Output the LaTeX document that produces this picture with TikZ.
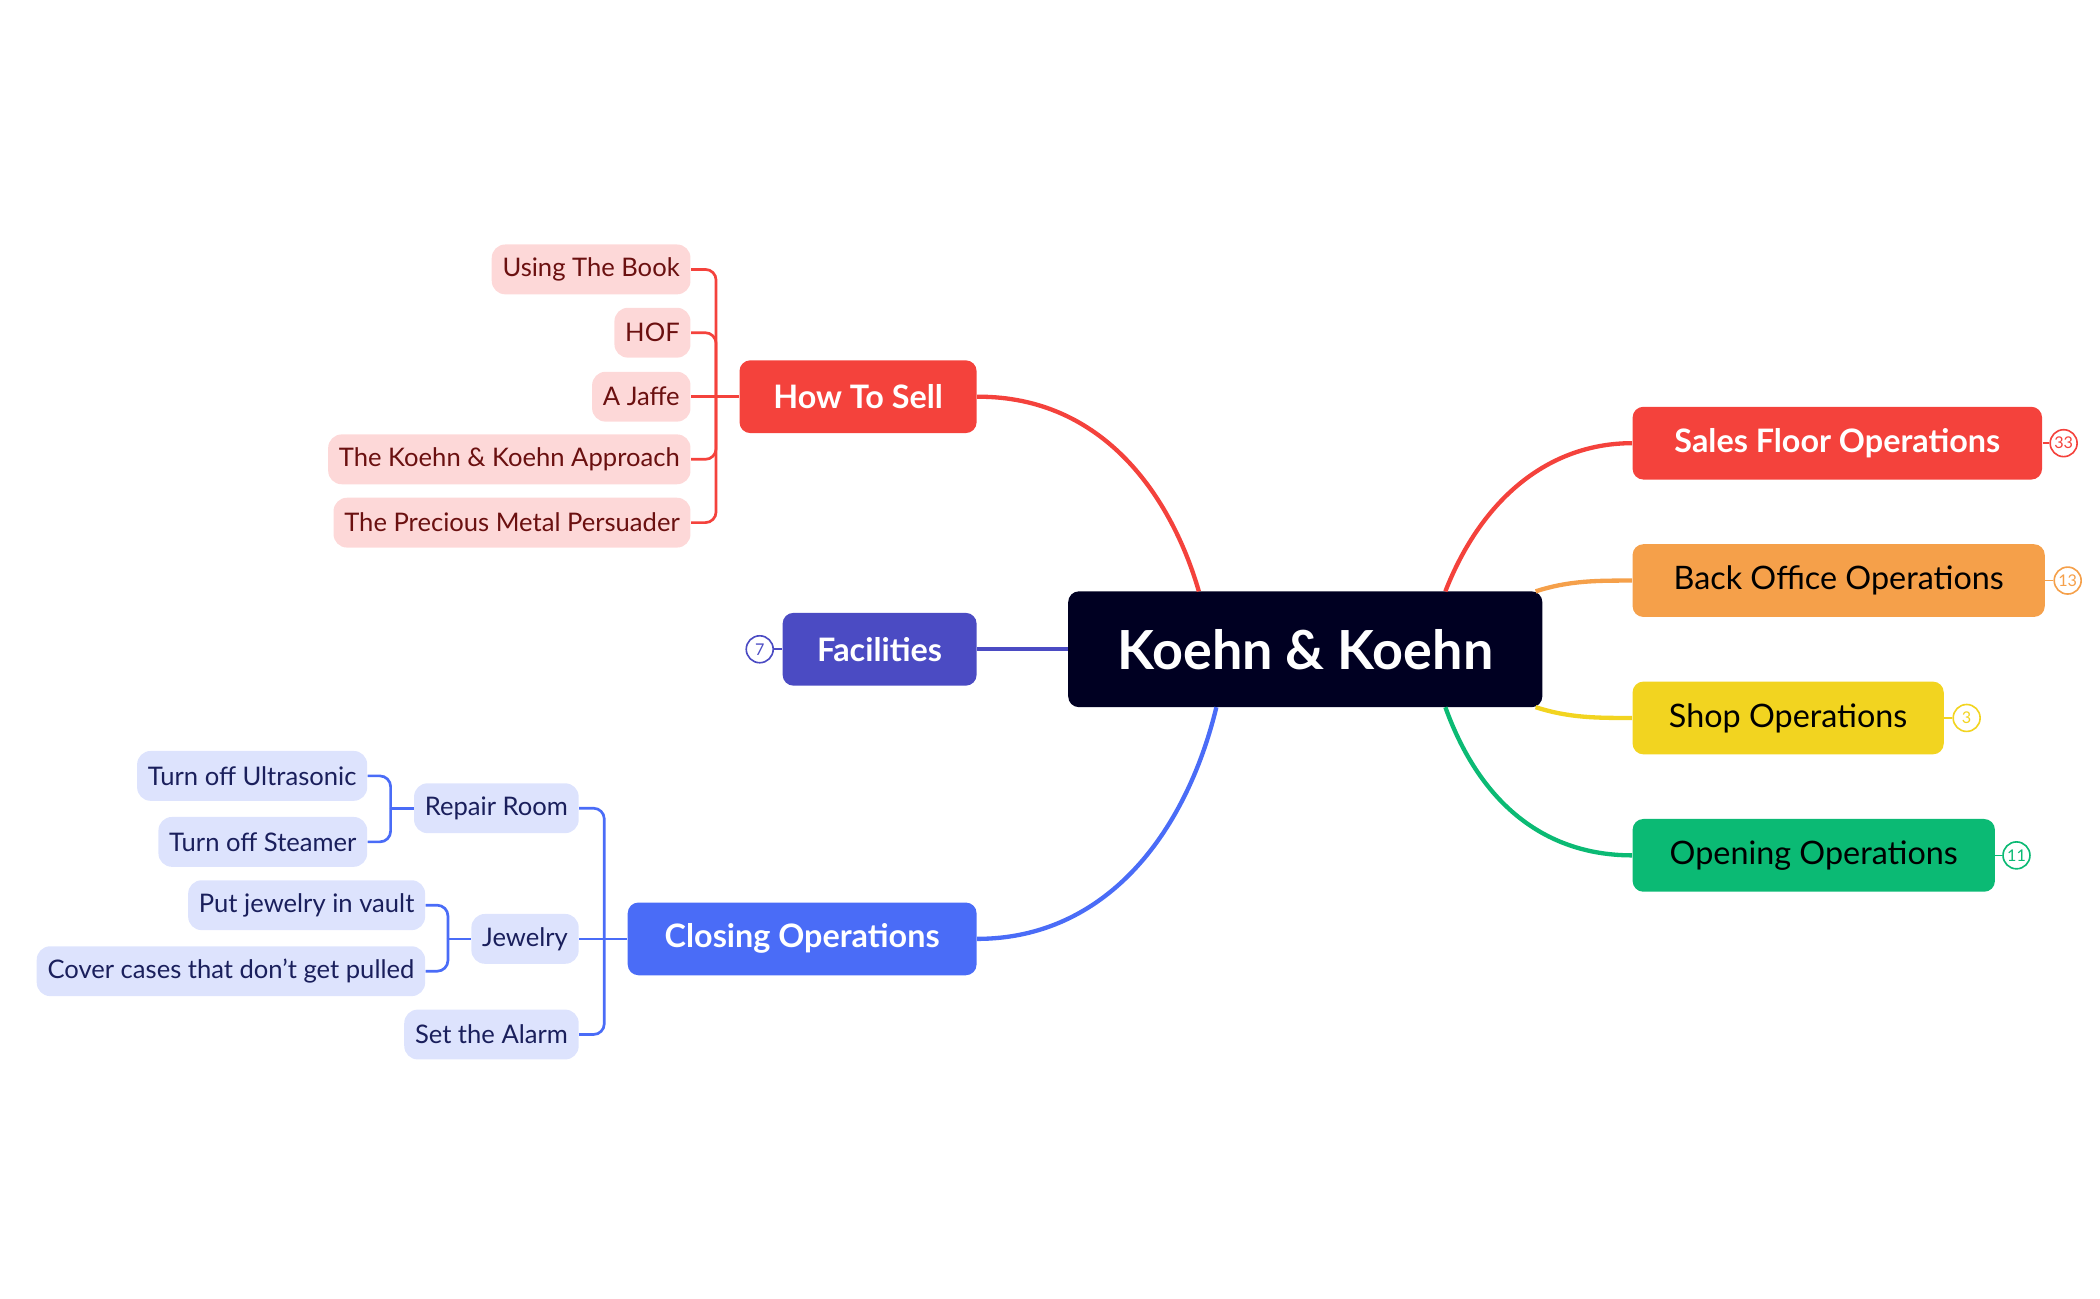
\documentclass[tikz,border=0pt]{standalone}
\usepackage{fontspec}
\setmainfont{Lato}
\begin{document}
\begin{tikzpicture}[x=0.5pt,y=-0.5pt,
 main/.style={rounded corners=4pt,minimum height=27pt,inner sep=0pt,font=\fontsize{12}{14}\selectfont\bfseries,text=white},
 leafr/.style={fill=pink1,rounded corners=5pt,minimum height=18.5pt,inner sep=4pt,font=\fontsize{9.5}{11}\selectfont,text=dred},
 leafb/.style={fill=lblue,rounded corners=5pt,minimum height=18.5pt,inner sep=4pt,font=\fontsize{9.5}{11}\selectfont,text=dnavy},
 badge/.style={circle,draw,line width=0.6pt,minimum size=10pt,inner sep=0pt,font=\fontsize{6}{7}\selectfont},
 con/.style={line width=1.6pt},
 br/.style={line width=1pt,rounded corners=4pt}]
\definecolor{cred}{HTML}{F4423C}
\definecolor{cpur}{HTML}{4B4BC3}
\definecolor{cblue}{HTML}{4A6CF7}
\definecolor{corg}{HTML}{F5A04A}
\definecolor{cyel}{HTML}{F2D420}
\definecolor{cgrn}{HTML}{0BBA74}
\definecolor{pink1}{HTML}{FDD8D8}
\definecolor{dred}{HTML}{6B1010}
\definecolor{lblue}{HTML}{DDE3FD}
\definecolor{dnavy}{HTML}{1A1F5C}
\definecolor{cdark}{HTML}{000022}
\useasboundingbox (0,0) rectangle (1559,964);
\node[fill=cdark,rounded corners=4pt,minimum width=176pt,minimum height=43pt,text=white,font=\fontsize{20}{24}\selectfont\bfseries] (c) at (969,482) {Koehn \& Koehn};
\node[main,fill=cred,minimum width=88pt] (hts) at (637,294.5) {How To Sell};
\node[main,fill=cpur,minimum width=72pt] (fac) at (653,482) {Facilities};
\node[main,fill=cblue,minimum width=129.5pt] (clo) at (595.5,697) {Closing Operations};
\node[main,fill=cred,minimum width=152pt] (sfo) at (1364,329) {Sales Floor Operations};
\node[main,fill=corg,minimum width=153pt,text=black,font=\fontsize{12}{14}\selectfont] (boo) at (1365,431) {Back Office Operations};
\node[main,fill=cyel,minimum width=115.5pt,text=black,font=\fontsize{12}{14}\selectfont] (sho) at (1327.5,533) {Shop Operations};
\node[main,fill=cgrn,minimum width=134.5pt,text=black,font=\fontsize{12}{14}\selectfont] (ope) at (1346.5,635) {Opening Operations};
\node[badge,cpur] (b7) at (564,482) {7};
\node[badge,cred] (b33) at (1532,329) {33};
\node[badge,corg] (b13) at (1535,431) {13};
\node[badge,cyel] (b3) at (1460,533) {3};
\node[badge,cgrn] (b11) at (1497,635) {11};
\draw[cpur,line width=0.6pt] (b7) -- (fac.west);
\draw[cred,line width=0.6pt] (sfo.east) -- (b33);
\draw[corg,line width=0.6pt] (boo.east) -- (b13);
\draw[cyel,line width=0.6pt] (sho.east) -- (b3);
\draw[cgrn,line width=0.6pt] (ope.east) -- (b11);
% center connectors
\coordinate (c1) at (890,439); \coordinate (c2) at (903,525);
\coordinate (c3) at (1073,439); \coordinate (c4) at (1140,439);
\coordinate (c5) at (1140,525); \coordinate (c6) at (1073,525);
\draw[con,cred] (hts.east) .. controls (820,294) and (870,370) .. (c1);
\draw[con,cpur] (fac.east) -- (c.west);
\draw[con,cblue] (clo.east) .. controls (820,697) and (880,620) .. (c2);
\draw[con,cred] (c3) .. controls (1100,370) and (1150,329) .. (sfo.west);
\draw[con,corg] (c4) .. controls (1165,431) and (1185,431) .. (boo.west);
\draw[con,cyel] (c5) .. controls (1165,533) and (1185,533) .. (sho.west);
\draw[con,cgrn] (c6) .. controls (1100,600) and (1150,635) .. (ope.west);
% how to sell leaves
\node[leafr,anchor=east] (l1) at (513,200) {Using The Book};
\node[leafr,anchor=east] (l2) at (513,247) {HOF};
\node[leafr,anchor=east] (l3) at (513,294.5) {A Jaffe};
\node[leafr,anchor=east] (l4) at (513,341) {The Koehn \& Koehn Approach};
\node[leafr,anchor=east] (l5) at (513,388) {The Precious Metal Persuader};
\draw[br,cred] (hts.west) -- (l3.east);
\foreach \l in {l1,l2,l4,l5} \draw[br,cred] (hts.west) ++(-17,0) |- (\l.east);
% closing children
\node[leafb,anchor=east] (rr) at (430,600) {Repair Room};
\node[leafb,anchor=east] (jw) at (430,697) {Jewelry};
\node[leafb,anchor=east] (sa) at (430,768) {Set the Alarm};
\draw[br,cblue] (clo.west) -- (jw.east);
\foreach \l in {rr,sa} \draw[br,cblue] (clo.west) ++(-17,0) |- (\l.east);
\node[leafb,anchor=east] (u1) at (273,576) {Turn off Ultrasonic};
\node[leafb,anchor=east] (u2) at (273,625) {Turn off Steamer};
\draw[br,cblue] (rr.west) -- ++(-17,0);
\foreach \l in {u1,u2} \draw[br,cblue] (rr.west) ++(-17,0) |- (\l.east);
\node[leafb,anchor=east] (j1) at (316,672) {Put jewelry in vault};
\node[leafb,anchor=east] (j2) at (316,721) {Cover cases that don't get pulled};
\draw[br,cblue] (jw.west) -- ++(-17,0);
\foreach \l in {j1,j2} \draw[br,cblue] (jw.west) ++(-17,0) |- (\l.east);
\end{tikzpicture}
\end{document}
